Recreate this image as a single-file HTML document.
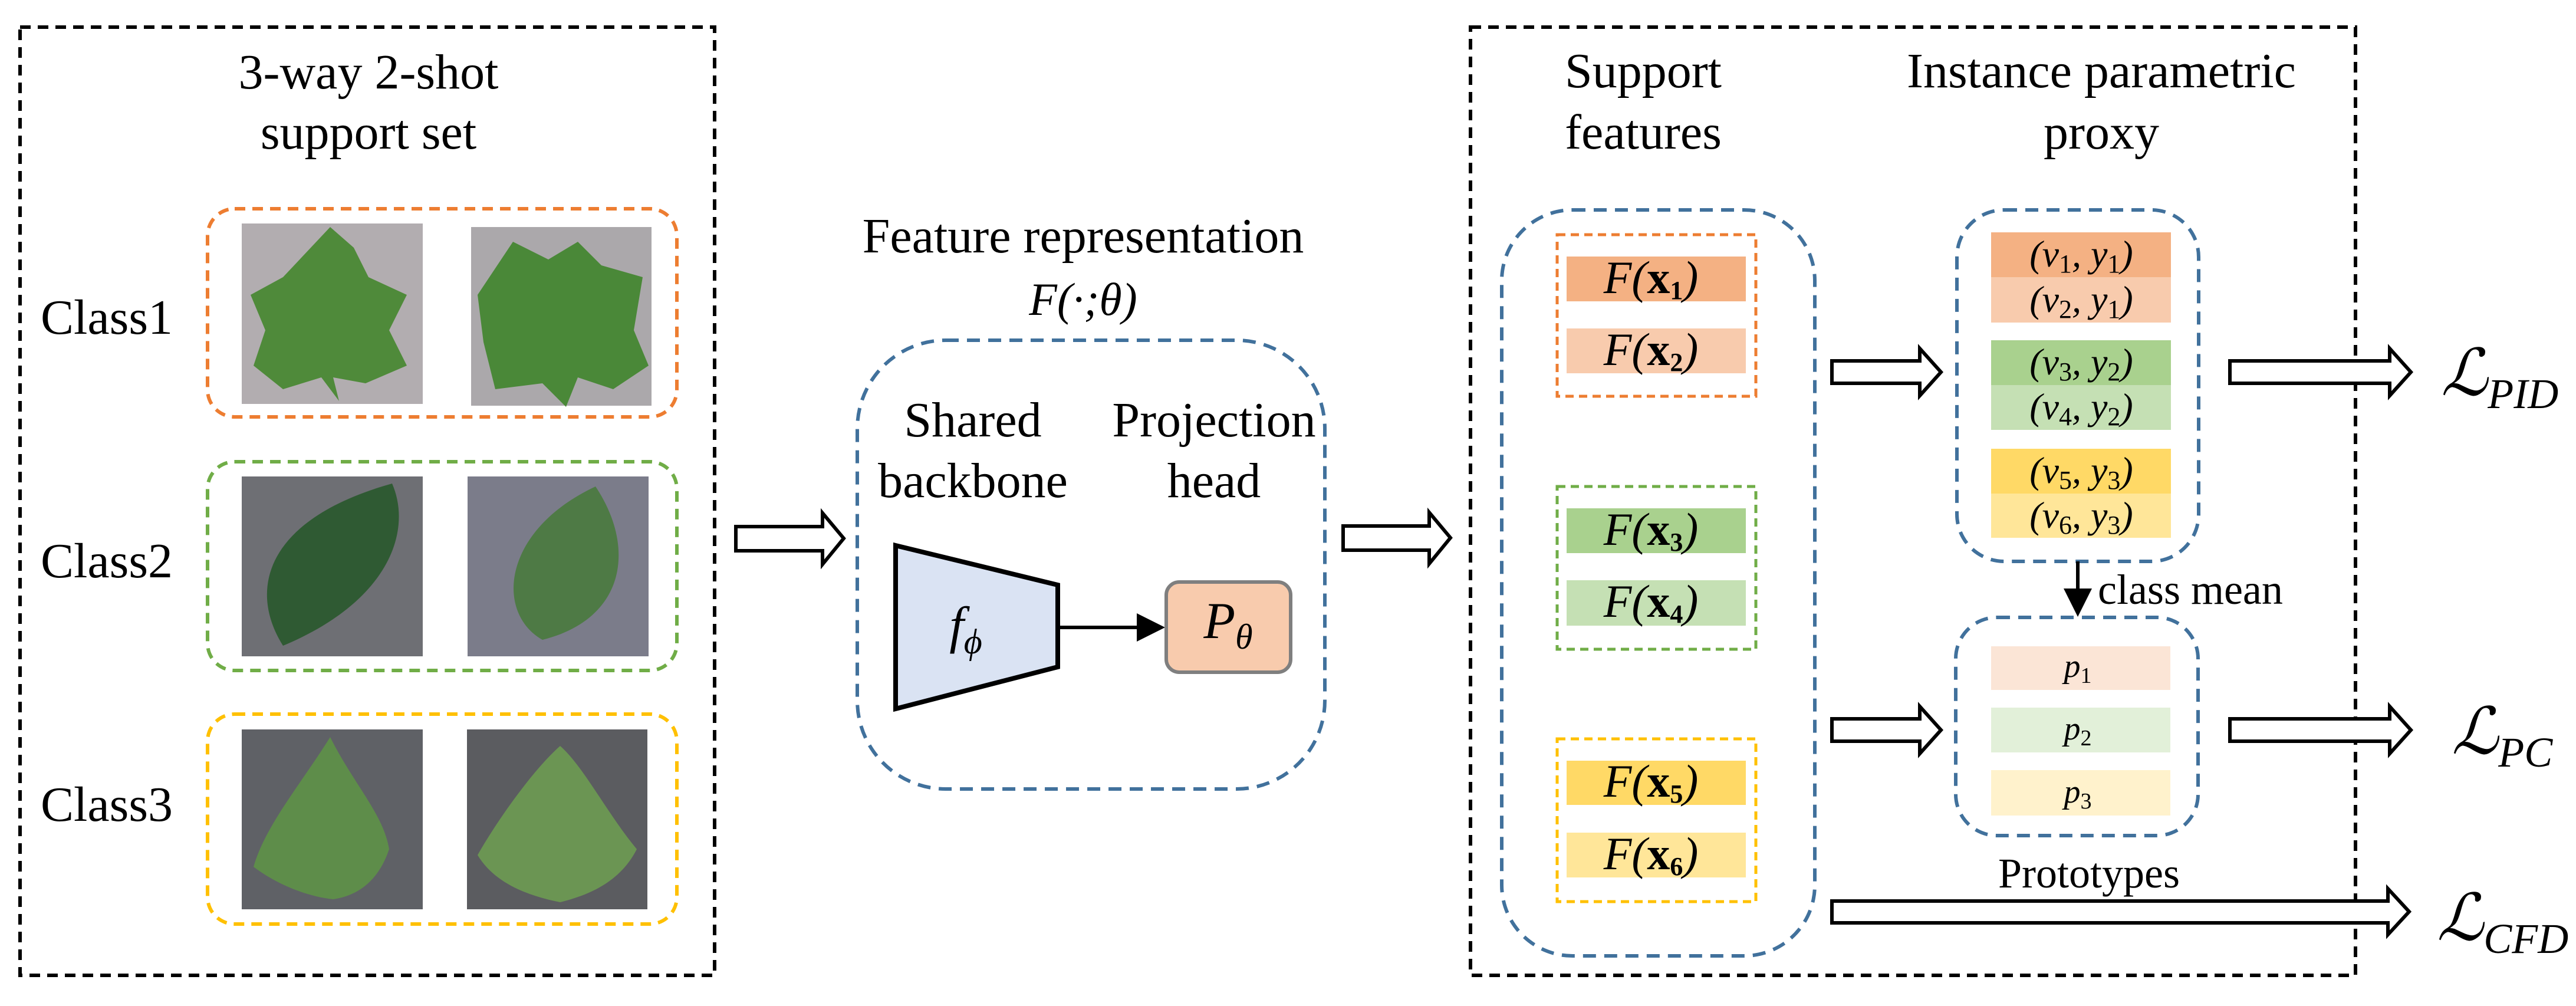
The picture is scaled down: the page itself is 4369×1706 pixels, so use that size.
<!DOCTYPE html>
<html><head><meta charset="utf-8"><style>
html,body{margin:0;padding:0;background:#fff}
svg{display:block}
text{font-family:"Liberation Serif",serif;fill:#000}
.t{font-size:84px}
.m{font-family:"Liberation Serif",serif;font-style:italic;font-size:64px}
.f{font-family:"Liberation Serif",serif;font-style:italic;font-size:78px}
.s{font-size:44px}
</style></head><body>
<svg width="4369" height="1706" viewBox="0 0 4369 1706" xmlns="http://www.w3.org/2000/svg">
<defs>
<marker id="ah" markerWidth="8" markerHeight="8" refX="7" refY="4" orient="auto" markerUnits="strokeWidth"><path d="M0,0 L8,4 L0,8 Z" fill="#000"/></marker>
</defs>
<rect x="34" y="46" width="1178" height="1608" fill="none" stroke="#000" stroke-width="6" stroke-dasharray="18 12"/>
<rect x="2494" y="46" width="1501" height="1608" fill="none" stroke="#000" stroke-width="6" stroke-dasharray="18 12"/>

<text class="t" x="625" y="150" text-anchor="middle">3-way 2-shot</text>
<text class="t" x="625" y="252" text-anchor="middle">support set</text>
<text class="t" x="69" y="566">Class1</text>
<text class="t" x="69" y="979">Class2</text>
<text class="t" x="69" y="1392">Class3</text>

<rect x="352" y="354" width="796" height="353" rx="46" fill="none" stroke="#ed7d31" stroke-width="6" stroke-dasharray="18 12"/>
<rect x="352" y="783" width="796" height="354" rx="46" fill="none" stroke="#70ad47" stroke-width="6" stroke-dasharray="18 12"/>
<rect x="352" y="1211" width="796" height="356" rx="46" fill="none" stroke="#ffc000" stroke-width="6" stroke-dasharray="18 12"/>

<rect x="410" y="379" width="307" height="306" fill="#b2adb0"/>
<path d="M560,385 L600,420 L625,470 L690,500 L660,560 L690,620 L620,650 L565,640 L575,680 L545,640 L480,660 L430,620 L450,560 L425,500 L480,470 Z" fill="#4f8a3a"/>
<rect x="799" y="385" width="306" height="303" fill="#aba8ab"/>
<path d="M870,410 L930,440 L980,410 L1020,450 L1090,470 L1075,560 L1100,620 L1040,660 L980,640 L960,690 L920,650 L840,660 L820,580 L810,500 Z" fill="#4a8838"/>
<rect x="410" y="808" width="307" height="305" fill="#6e6f74"/>
<path d="M665,820 C700,900 660,1020 480,1095 C420,1000 450,880 665,820 Z" fill="#2f5a33"/>
<rect x="793" y="808" width="307" height="305" fill="#7b7c8a"/>
<path d="M1010,825 C1080,930 1060,1050 920,1085 C840,1040 850,900 1010,825 Z" fill="#4e7a45"/>
<rect x="410" y="1237" width="307" height="305" fill="#5f6166"/>
<path d="M560,1250 C600,1330 650,1380 660,1440 C640,1500 600,1520 565,1525 C520,1520 470,1500 430,1470 C450,1400 510,1330 560,1250 Z" fill="#5e8d4a"/>
<rect x="792" y="1237" width="306" height="305" fill="#5b5c60"/>
<path d="M950,1265 C990,1300 1030,1380 1080,1440 C1050,1500 990,1520 950,1530 C900,1520 840,1500 810,1450 C850,1380 910,1300 950,1265 Z" fill="#6b9553"/>

<path d="M1248,893 L1395,893 L1395,870 L1431,913 L1395,957 L1395,934 L1248,934 Z" fill="#fff" stroke="#000" stroke-width="6"/>

<text class="t" x="1837" y="428" text-anchor="middle">Feature representation</text>
<text x="1837" y="534" text-anchor="middle" style="font-size:78px;font-style:italic">F(·;θ)</text>
<rect x="1454" y="577" width="793" height="761" rx="150" fill="none" stroke="#41719c" stroke-width="6" stroke-dasharray="22 14"/>
<text class="t" x="1650" y="740" text-anchor="middle">Shared</text>
<text class="t" x="1650" y="843" text-anchor="middle">backbone</text>
<text class="t" x="2059" y="740" text-anchor="middle">Projection</text>
<text class="t" x="2059" y="843" text-anchor="middle">head</text>
<path d="M1519,925 L1794,992 L1794,1131 L1519,1202 Z" fill="#dae3f3" stroke="#000" stroke-width="8"/>
<text x="1638" y="1090" text-anchor="middle" style="font-size:88px;font-style:italic">f<tspan dy="18" style="font-size:60px">ϕ</tspan></text>
<line x1="1794" y1="1064" x2="1970" y2="1064" stroke="#000" stroke-width="6" marker-end="url(#ah)"/>
<rect x="1978" y="987" width="211" height="153" rx="22" fill="#f8cbad" stroke="#7f7f7f" stroke-width="6"/>
<text x="2083" y="1082" text-anchor="middle" style="font-size:88px;font-style:italic">P<tspan dy="18" style="font-size:60px">θ</tspan></text>

<path d="M2278,892 L2424,892 L2424,869 L2460,912 L2424,956 L2424,933 L2278,933 Z" fill="#fff" stroke="#000" stroke-width="6"/>

<text class="t" x="2787" y="148" text-anchor="middle">Support</text>
<text class="t" x="2787" y="252" text-anchor="middle">features</text>
<text class="t" x="3564" y="148" text-anchor="middle">Instance parametric</text>
<text class="t" x="3564" y="252" text-anchor="middle">proxy</text>

<rect x="2547" y="356" width="531" height="1265" rx="120" fill="none" stroke="#41719c" stroke-width="6" stroke-dasharray="22 14"/>
<rect x="2641" y="398" width="337" height="274" fill="none" stroke="#ed7d31" stroke-width="5" stroke-dasharray="14 9"/>
<rect x="2641" y="825" width="337" height="276" fill="none" stroke="#70ad47" stroke-width="5" stroke-dasharray="14 9"/>
<rect x="2641" y="1253" width="337" height="276" fill="none" stroke="#ffc000" stroke-width="5" stroke-dasharray="14 9"/>
<rect x="2657" y="435" width="304" height="76" fill="#f4b183"/>
<rect x="2657" y="557" width="304" height="76" fill="#f8cbad"/>
<rect x="2657" y="862" width="304" height="76" fill="#a9d18e"/>
<rect x="2657" y="984" width="304" height="77" fill="#c5e0b4"/>
<rect x="2657" y="1290" width="304" height="75" fill="#ffd966"/>
<rect x="2657" y="1412" width="304" height="76" fill="#ffe699"/>
<text class="f" x="2800" y="497" text-anchor="middle">F(<tspan font-weight="bold" font-style="normal">x<tspan dy="10" class="s">1</tspan></tspan><tspan dy="-10">)</tspan></text>
<text class="f" x="2800" y="619" text-anchor="middle">F(<tspan font-weight="bold" font-style="normal">x<tspan dy="10" class="s">2</tspan></tspan><tspan dy="-10">)</tspan></text>
<text class="f" x="2800" y="924" text-anchor="middle">F(<tspan font-weight="bold" font-style="normal">x<tspan dy="10" class="s">3</tspan></tspan><tspan dy="-10">)</tspan></text>
<text class="f" x="2800" y="1046" text-anchor="middle">F(<tspan font-weight="bold" font-style="normal">x<tspan dy="10" class="s">4</tspan></tspan><tspan dy="-10">)</tspan></text>
<text class="f" x="2800" y="1351" text-anchor="middle">F(<tspan font-weight="bold" font-style="normal">x<tspan dy="10" class="s">5</tspan></tspan><tspan dy="-10">)</tspan></text>
<text class="f" x="2800" y="1474" text-anchor="middle">F(<tspan font-weight="bold" font-style="normal">x<tspan dy="10" class="s">6</tspan></tspan><tspan dy="-10">)</tspan></text>

<rect x="3319" y="356" width="410" height="596" rx="80" fill="none" stroke="#41719c" stroke-width="6" stroke-dasharray="22 14"/>
<rect x="3377" y="394" width="305" height="76" fill="#f4b183"/>
<rect x="3377" y="470" width="305" height="77" fill="#f8cbad"/>
<rect x="3377" y="577" width="305" height="76" fill="#a9d18e"/>
<rect x="3377" y="653" width="305" height="76" fill="#c5e0b4"/>
<rect x="3377" y="761" width="305" height="76" fill="#ffd966"/>
<rect x="3377" y="837" width="305" height="75" fill="#ffe699"/>
<text class="m" x="3530" y="452" text-anchor="middle">(v<tspan dy="10" class="s" font-style="normal">1</tspan><tspan dy="-10">, y</tspan><tspan dy="10" class="s" font-style="normal">1</tspan><tspan dy="-10">)</tspan></text>
<text class="m" x="3530" y="529" text-anchor="middle">(v<tspan dy="10" class="s" font-style="normal">2</tspan><tspan dy="-10">, y</tspan><tspan dy="10" class="s" font-style="normal">1</tspan><tspan dy="-10">)</tspan></text>
<text class="m" x="3530" y="635" text-anchor="middle">(v<tspan dy="10" class="s" font-style="normal">3</tspan><tspan dy="-10">, y</tspan><tspan dy="10" class="s" font-style="normal">2</tspan><tspan dy="-10">)</tspan></text>
<text class="m" x="3530" y="711" text-anchor="middle">(v<tspan dy="10" class="s" font-style="normal">4</tspan><tspan dy="-10">, y</tspan><tspan dy="10" class="s" font-style="normal">2</tspan><tspan dy="-10">)</tspan></text>
<text class="m" x="3530" y="819" text-anchor="middle">(v<tspan dy="10" class="s" font-style="normal">5</tspan><tspan dy="-10">, y</tspan><tspan dy="10" class="s" font-style="normal">3</tspan><tspan dy="-10">)</tspan></text>
<text class="m" x="3530" y="895" text-anchor="middle">(v<tspan dy="10" class="s" font-style="normal">6</tspan><tspan dy="-10">, y</tspan><tspan dy="10" class="s" font-style="normal">3</tspan><tspan dy="-10">)</tspan></text>

<line x1="3524" y1="952" x2="3524" y2="1040" stroke="#000" stroke-width="6" marker-end="url(#ah)"/>
<text x="3558" y="1024" style="font-size:72px">class mean</text>

<rect x="3317" y="1047" width="411" height="370" rx="70" fill="none" stroke="#41719c" stroke-width="6" stroke-dasharray="22 14"/>
<rect x="3377" y="1096" width="304" height="74" fill="#fbe5d6"/>
<rect x="3377" y="1200" width="304" height="76" fill="#e2f0d9"/>
<rect x="3377" y="1306" width="304" height="77" fill="#fff2cc"/>
<text class="m" x="3524" y="1148" text-anchor="middle" style="font-size:56px">p<tspan dy="10" style="font-size:38px;font-style:normal">1</tspan></text>
<text class="m" x="3524" y="1254" text-anchor="middle" style="font-size:56px">p<tspan dy="10" style="font-size:38px;font-style:normal">2</tspan></text>
<text class="m" x="3524" y="1361" text-anchor="middle" style="font-size:56px">p<tspan dy="10" style="font-size:38px;font-style:normal">3</tspan></text>

<path d="M3107,612 L3256,612 L3256,591 L3292,631 L3256,671 L3256,650 L3107,650 Z" fill="#fff" stroke="#000" stroke-width="6"/>
<path d="M3107,1219 L3256,1219 L3256,1198 L3292,1238 L3256,1278 L3256,1257 L3107,1257 Z" fill="#fff" stroke="#000" stroke-width="6"/>
<path d="M3782,612 L4053,612 L4053,591 L4089,631 L4053,671 L4053,650 L3782,650 Z" fill="#fff" stroke="#000" stroke-width="6"/>
<path d="M3782,1219 L4053,1219 L4053,1198 L4089,1238 L4053,1278 L4053,1257 L3782,1257 Z" fill="#fff" stroke="#000" stroke-width="6"/>
<path d="M3107,1528 L4050,1528 L4050,1507 L4086,1546 L4050,1585 L4050,1565 L3107,1565 Z" fill="#fff" stroke="#000" stroke-width="6"/>
<text x="3543" y="1505" text-anchor="middle" style="font-size:72px">Prototypes</text>

<text x="4140" y="670" style="font-size:110px;font-style:italic">ℒ<tspan dy="22" style="font-size:72px">PID</tspan></text>
<text x="4158" y="1278" style="font-size:110px;font-style:italic">ℒ<tspan dy="22" style="font-size:72px">PC</tspan></text>
<text x="4133" y="1594" style="font-size:110px;font-style:italic">ℒ<tspan dy="22" style="font-size:72px">CFD</tspan></text>
</svg>
</body></html>
